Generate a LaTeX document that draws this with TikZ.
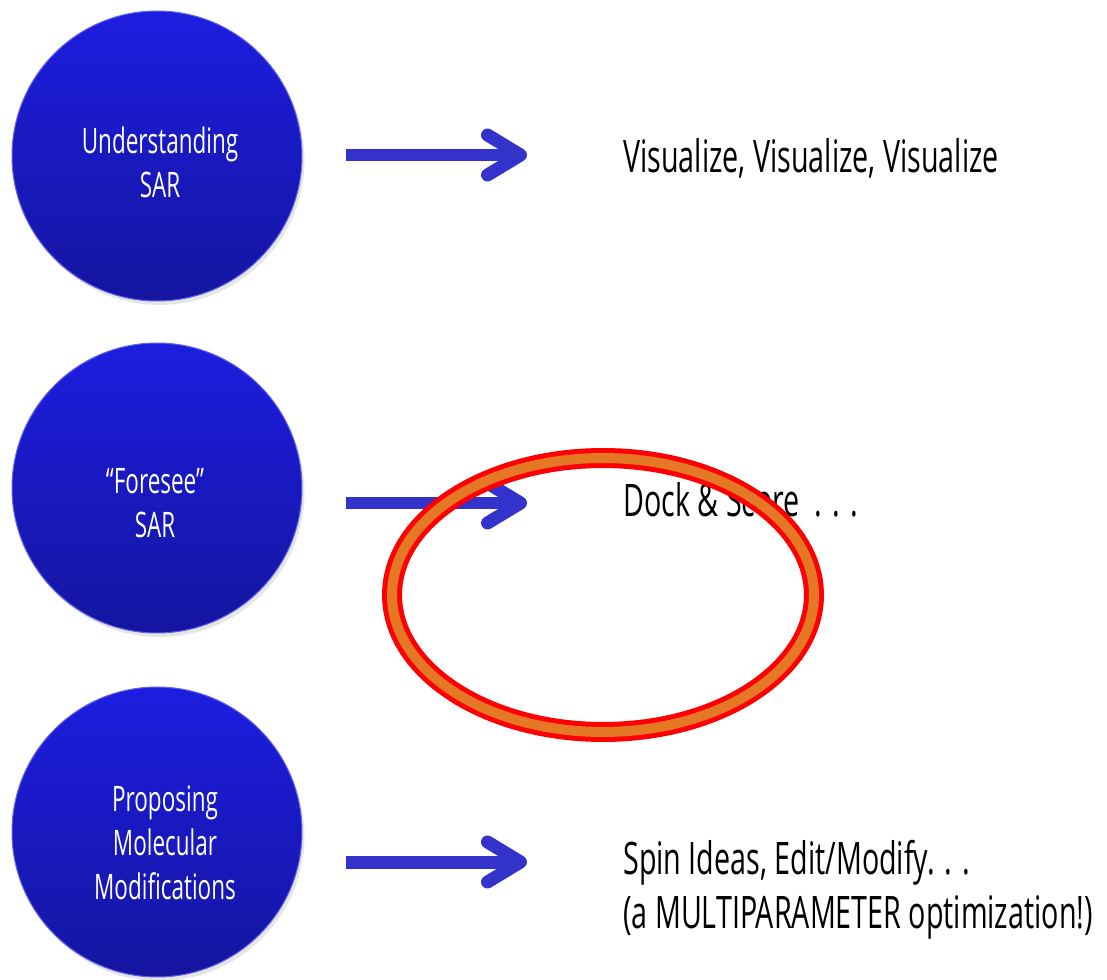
\documentclass[tikz,border=0pt]{standalone}
\usepackage{fontspec}
\setmainfont{Open Sans}[FakeStretch=0.64]
\usetikzlibrary{arrows.meta,shadows}
\definecolor{bubtop}{RGB}{29,29,224}
\definecolor{bubbot}{RGB}{21,21,160}
\definecolor{arrblue}{RGB}{51,51,204}
\definecolor{ringorange}{RGB}{228,120,36}
\tikzset{
  bubble/.style={circle, minimum size=5.8cm, inner sep=0pt, top color=bubtop,
    bottom color=bubbot, draw=bubtop!70!white, line width=0.6pt,
    drop shadow={opacity=0.2, shadow xshift=0.05cm, shadow yshift=-0.08cm}},
  bubtext/.style={text=white, align=center, font=\fontsize{20}{25}\selectfont},
  bigtext/.style={anchor=west, align=left, inner sep=0pt, font=\fontsize{25.5}{30.5}\selectfont},
  fatarrow/.style={draw=arrblue, line width=0.26cm,
    -{Straight Barb[length=0.66cm,width=0.8cm,round]}},
  ring/.style={draw=red, line width=0.1cm, double=ringorange, double distance=0.2cm}
}
\begin{document}
\begin{tikzpicture}[x=0.02cm,y=-0.02cm]
\useasboundingbox (0,0) rectangle (1107,980);
\node[bubble] (und) at (157,156) {};
\node[bubble] (fore) at (157,488) {};
\node[bubble] (prop) at (157,832) {};
\node[bubtext] (undtxt) at (160,162) {Understanding\\SAR};
\node[bubtext] (foretxt) at (155,503) {“Foresee”\\SAR};
\node[bubtext] (proptxt) at (165,843) {Proposing\\Molecular\\Modifications};
\node[bigtext] (vis) at (623,158) {Visualize, Visualize, Visualize};
\node[bigtext] (dock) at (623,500) {Dock \& Score\ \ . . .};
\node[bigtext] (spin) at (623,890) {Spin Ideas, Edit/Modify. . .\\(a MULTIPARAMETER optimization!)};
\coordinate (t1) at (346,155);
\coordinate (t2) at (346,503);
\coordinate (t3) at (346,862);
\draw[fatarrow, shorten >=1.92cm] (t1) -- (t1 -| vis.west);
\draw[fatarrow, shorten >=1.92cm] (t2) -- (t2 -| dock.west);
\draw[fatarrow, shorten >=1.92cm] (t3) -- (t3 -| spin.west);
\coordinate (rc) at (603,595);
\draw[ring] (rc) ellipse [x radius=4.22cm, y radius=2.74cm];
\end{tikzpicture}
\end{document}
